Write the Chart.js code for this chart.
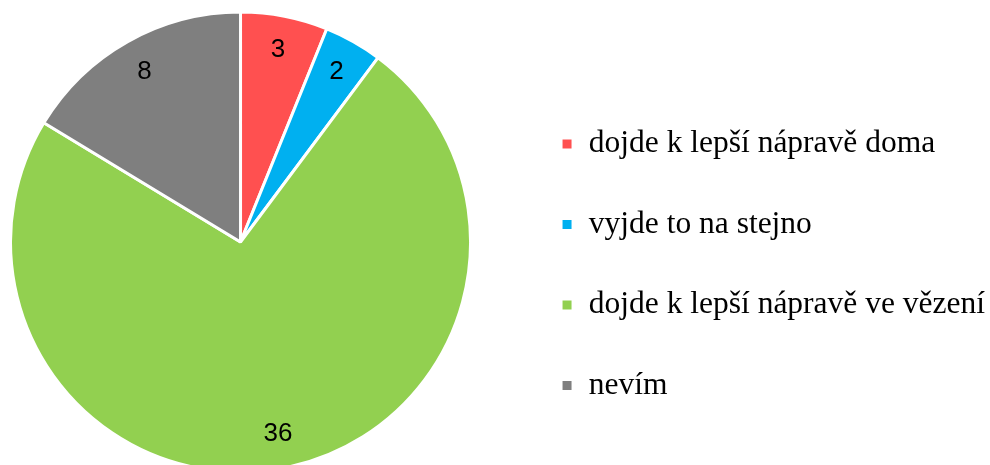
<!DOCTYPE html>
<html>
<head>
<meta charset="utf-8">
<script src="https://cdn.jsdelivr.net/npm/chart.js@4"></script>
<style>
  html, body { margin: 0; padding: 0; background: #fff; overflow: hidden; }
  #wrap { width: 990px; height: 465px; position: relative; overflow: hidden; }
  /* canvas is a bit wider and pulled left so the pie sits near the left edge */
  #pie { position: absolute; left: -31px; top: 0; }
</style>
</head>
<body>
<div id="wrap"><canvas id="pie" width="1026" height="465"></canvas></div>
<script>
// data
const categories = ['dojde k lepší nápravě doma', 'vyjde to na stejno', 'dojde k lepší nápravě ve vězení', 'nevím'];
const answers = [3, 2, 36, 8];
const sliceColors = ['#FF5050', '#00B0F0', '#92D050', '#7F7F7F'];

// numbers inside the slices, near the outer edge
const sliceLabels = {
    id: 'sliceLabels',
    afterDatasetsDraw(chart) {
        const ctx = chart.ctx;
        const meta = chart.getDatasetMeta(0);
        ctx.save();
        ctx.font = '26px "Liberation Sans", Arial, sans-serif';
        ctx.fillStyle = '#000';
        ctx.textAlign = 'center';
        ctx.textBaseline = 'middle';
        meta.data.forEach((arc, i) => {
            const { x, y, startAngle, endAngle, outerRadius } = arc.getProps(['x', 'y', 'startAngle', 'endAngle', 'outerRadius'], true);
            const mid = (startAngle + endAngle) / 2;
            const r = outerRadius * 0.85;
            ctx.fillText(String(answers[i]), x + Math.cos(mid) * r, y + Math.sin(mid) * r);
        });
        ctx.restore();
    }
};

new Chart(document.getElementById('pie'), {
    type: 'pie',
    data: {
        labels: categories,
        datasets: [{
            data: answers,
            backgroundColor: sliceColors,
            borderColor: '#fff',
            borderWidth: 3,
            radius: 230
        }]
    },
    options: {
        responsive: false,
        animation: false,
        layout: { padding: { left: 0, right: 0, top: 19, bottom: 0 } },
        plugins: {
            tooltip: { enabled: false },
            legend: {
                position: 'right',
                // empty title only pushes the items down a little
                title: { display: true, text: '', font: { size: 10 }, padding: { top: 33.5, bottom: 0 } },
                labels: {
                    color: '#000',
                    boxWidth: 12,
                    boxHeight: 12,
                    padding: 49,
                    font: { family: '"Liberation Serif", "Times New Roman", serif', size: 31.5 }
                }
            }
        }
    },
    plugins: [sliceLabels]
});
</script>
</body>
</html>
